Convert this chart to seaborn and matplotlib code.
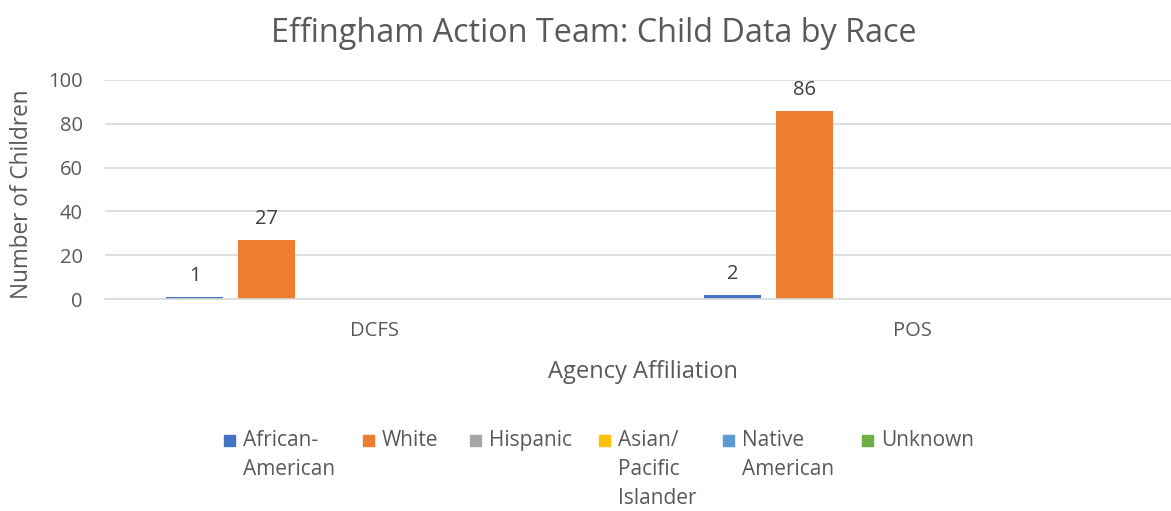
import matplotlib
matplotlib.use("Agg")
import matplotlib.pyplot as plt
import seaborn as sns
import pandas as pd
from matplotlib.patches import Rectangle

# ---- data ----
categories = ["DCFS", "POS"]
races = ["African-American", "White", "Hispanic", "Asian/Pacific Islander", "Native American", "Unknown"]
legend_lines = [["African-", "American"], ["White"], ["Hispanic"],
                ["Asian/", "Pacific", "Islander"], ["Native", "American"], ["Unknown"]]
african_american = [1, 2]
white = [27, 86]
hispanic = [0, 0]
asian_pacific = [0, 0]
native_american = [0, 0]
unknown = [0, 0]
colors = ["#4472C4", "#ED7D31", "#A5A5A5", "#FFC000", "#5B9BD5", "#70AD47"]

series = [african_american, white, hispanic, asian_pacific, native_american, unknown]
rows = []
for race, vals in zip(races, series):
    for cat, v in zip(categories, vals):
        rows.append({"Agency": cat, "Race": race, "Count": v})
df = pd.DataFrame(rows)

sns.set_theme(style="white")
plt.rcParams["font.family"] = ["Open Sans", "DejaVu Sans"]
TXT = "#595959"

W, H = 1171, 511
fig = plt.figure(figsize=(W / 100, H / 100), dpi=100)
ax = fig.add_axes([105 / W, 1 - 299 / H, (W - 105) / W, (299 - 80) / H])

sns.barplot(data=df, x="Agency", y="Count", hue="Race", order=categories,
            hue_order=races, palette=colors, width=0.8, gap=0.2,
            saturation=1, linewidth=0, ax=ax, legend=False)

for cont in ax.containers:
    labels = [f"{int(b.get_height())}" if b.get_height() > 0 else "" for b in cont]
    ax.bar_label(cont, labels=labels, padding=8, fontsize=14.5, color="#404040")

ax.set_ylim(0, 100)
ax.set_yticks([0, 20, 40, 60, 80, 100])
ax.set_xlim(-0.5, (W - 374) / 538)
ax.yaxis.grid(True, color="#D9D9D9", linewidth=1.2)
ax.set_axisbelow(True)
for s in ["top", "right", "left"]:
    ax.spines[s].set_visible(False)
ax.spines["bottom"].set_color("#D9D9D9")
ax.spines["bottom"].set_linewidth(1.2)
ax.tick_params(axis="y", length=0, pad=16, labelsize=14.5, labelcolor=TXT)
ax.tick_params(axis="x", length=0, pad=16, labelsize=14.5, labelcolor=TXT)
ax.set_xlabel("")
ax.set_ylabel("")

fig.text(643 / W, 1 - 378 / H, "Agency Affiliation", ha="center",
         va="baseline", fontsize=17, color=TXT)
fig.text(22 / W, 1 - 194 / H, "Number of Children", rotation=90, ha="center",
         va="center", fontsize=16.3, color=TXT)
fig.text(594 / W, 1 - 42 / H, "Effingham Action Team: Child Data by Race",
         ha="center", va="baseline", fontsize=23.3, color=TXT)

# ---- legend (manual, Excel-style wrapped entries) ----
marker_x = [224, 363, 470, 599, 723, 862]
for mx, lines, c in zip(marker_x, legend_lines, colors):
    fig.patches.append(Rectangle((mx / W, 1 - 446 / H), 11 / W, 11 / H,
                                 transform=fig.transFigure, color=c))
    for i, line in enumerate(lines):
        fig.text((mx + 19) / W, 1 - (446 + 29 * i) / H, line, ha="left",
                 va="baseline", fontsize=15, color=TXT)

fig.savefig("out.png", dpi=100)
